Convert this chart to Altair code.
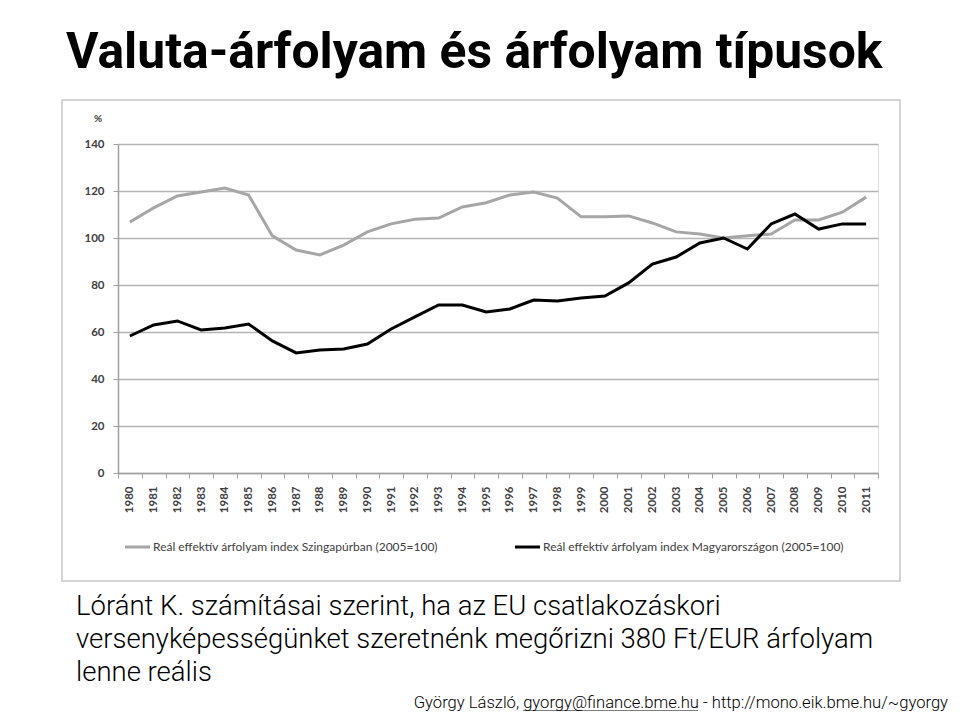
import altair as alt
import pandas as pd

years = [str(y) for y in range(1980, 2012)]

singapore = [106.8, 112.8, 117.9, 119.6, 121.3, 118.3, 100.9, 94.9, 92.8, 97.0,
             102.6, 106.0, 108.0, 108.5, 113.2, 115.0, 118.3, 119.6, 117.0, 109.0,
             109.0, 109.4, 106.4, 102.6, 101.7, 100.0, 101.0, 101.7, 107.7, 107.7,
             111.0, 117.4]

hungary = [58.3, 63.0, 64.7, 60.9, 61.7, 63.4, 56.2, 51.1, 52.3, 52.8,
           54.9, 61.3, 66.4, 71.5, 71.5, 68.5, 69.8, 73.6, 73.2, 74.5,
           75.3, 80.9, 88.9, 91.9, 97.9, 100.0, 95.3, 106.0, 110.2, 103.8,
           106.0, 106.0]

series_names = [
    "Reál effektív árfolyam  index Szingapúrban (2005=100)",
    "Reál effektív árfolyam  index Magyarországon  (2005=100)",
]
series_colors = ["#a6a6a6", "#000000"]

title_text = "Valuta-árfolyam és árfolyam típusok"
body_lines = [
    "Lóránt K. számításai szerint, ha az EU csatlakozáskori",
    "versenyképességünket szeretnénk megőrizni 380 Ft/EUR árfolyam",
    "lenne reális",
]
footer_text = "György László, gyorgy@finance.bme.hu - http://mono.eik.bme.hu/~gyorgy"

AX = "Lato"
TITLE = "Roboto"
BODY = "Roboto"

rows = []
for i, y in enumerate(years):
    rows.append({"year": y, "value": singapore[i], "series": series_names[0]})
    rows.append({"year": y, "value": hungary[i], "series": series_names[1]})
df = pd.DataFrame(rows)

W, H = 760, 329

x_enc = alt.X("year:O", sort=years,
              scale=alt.Scale(paddingInner=0, paddingOuter=0),
              axis=alt.Axis(title=None, labelAngle=270, labelFont=AX, labelFontWeight="bold",
                            labelFontSize=11.5, labelColor="#404040", labelPadding=8,
                            tickBand="extent", tickSize=5, tickColor="#a0a0a0",
                            domainColor="#a0a0a0", domainWidth=1.5, grid=False,
                            labelBaseline="middle", labelAlign="right"))
y_enc = alt.Y("value:Q", scale=alt.Scale(domain=[0, 140], nice=False),
              axis=alt.Axis(title=None, values=list(range(0, 141, 20)), labelFont=AX,
                            labelFontWeight="bold", labelFontSize=11.5, labelColor="#404040",
                            labelPadding=9, tickSize=5, tickColor="#a0a0a0",
                            domainColor="#a0a0a0", domainWidth=1.5,
                            gridColor="#b5b5b5", gridWidth=1.5))

lines = alt.Chart(df).mark_line(strokeWidth=3, strokeJoin="miter").encode(
    x=x_enc, y=y_enc,
    color=alt.Color("series:N", scale=alt.Scale(domain=series_names, range=series_colors), legend=None),
    detail="series:N",
)

# chart frame
frame = alt.Chart(pd.DataFrame({"a": [0]})).mark_rect(fill=None, stroke="#c8c8c8", strokeWidth=1.5).encode(
    x=alt.value(-56), x2=alt.value(782), y=alt.value(-44), y2=alt.value(437))

def txt(text, x, y, size, font, weight="normal", align="left", color="#000000", baseline="alphabetic"):
    return alt.Chart(pd.DataFrame({"t": [text]})).mark_text(
        align=align, baseline=baseline, fontSize=size, font=font, fontWeight=weight, color=color
    ).encode(text="t:N", x=alt.value(x), y=alt.value(y))

title = txt(title_text, -52, -76, 49.8, TITLE, weight="bold")
pct = txt("%", -24, -22, 10, AX, weight="bold", color="#404040")

# legend
leg_y = 403
leg = []
leg.append(alt.Chart(pd.DataFrame({"a": [0]})).mark_rule(color=series_colors[0], strokeWidth=3).encode(
    x=alt.value(7), x2=alt.value(32), y=alt.value(leg_y)))
leg.append(txt(series_names[0], 35, leg_y, 12, AX, color="#404040", baseline="middle"))
leg.append(alt.Chart(pd.DataFrame({"a": [0]})).mark_rule(color=series_colors[1], strokeWidth=3).encode(
    x=alt.value(397), x2=alt.value(422), y=alt.value(leg_y)))
leg.append(txt(series_names[1], 425, leg_y, 12, AX, color="#404040", baseline="middle"))

body = [
    txt(body_lines[0], -42, 471, 27.5, BODY, weight=300),
    txt(body_lines[1], -42, 504, 27.5, BODY, weight=300),
    txt(body_lines[2], -42, 537, 27.5, BODY, weight=300),
]
footer = txt(footer_text, 830, 564, 16.6, BODY, weight=300, align="right")
underline = alt.Chart(pd.DataFrame({"a": [0]})).mark_rule(color="#000000", strokeWidth=1).encode(
    x=alt.value(405), x2=alt.value(580), y=alt.value(567))

chart = alt.layer(frame, lines, title, pct, *leg, *body, footer, underline).properties(
    width=W, height=H,
    autosize=alt.AutoSizeParams(type="none"),
    padding={"left": 110, "top": 136, "right": 74, "bottom": 238},
).configure_view(stroke=None).configure(background="white")

chart.save("out.html", embed_options={"renderer": "svg", "actions": False})
